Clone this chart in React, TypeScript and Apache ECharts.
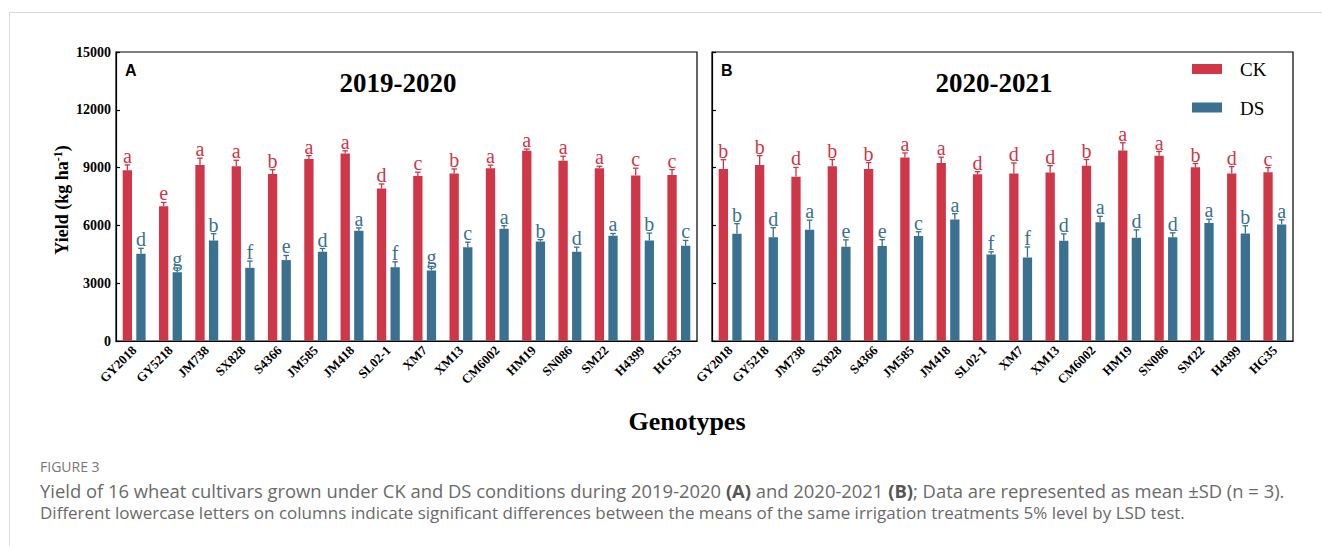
import React, { useEffect, useRef } from "react";
import * as echarts from "echarts";

// Genotypes on the x axis
const categories = [
  "GY2018", "GY5218", "JM738", "SX828", "S4366", "JM585", "JM418", "SL02-1",
  "XM7", "XM13", "CM6002", "HM19", "SN086", "SM22", "H4399", "HG35",
];

// 2019-2020 season (kg/ha), mean and SD
const ck2020 = [8860, 6990, 9140, 9070, 8670, 9450, 9730, 7910, 8570, 8690, 8970, 9870, 9350, 8970, 8590, 8620];
const ck2020Sd = [280, 200, 350, 310, 220, 170, 140, 240, 190, 240, 160, 90, 240, 100, 380, 280];
const ds2020 = [4530, 3570, 5220, 3800, 4200, 4630, 5720, 3830, 3660, 4870, 5830, 5170, 4630, 5460, 5220, 4940];
const ds2020Sd = [280, 220, 350, 350, 240, 170, 150, 280, 210, 260, 155, 90, 240, 120, 380, 280];
const ck2020Letters = ["a", "e", "a", "a", "b", "a", "a", "d", "c", "b", "a", "a", "a", "a", "c", "c"];
const ds2020Letters = ["d", "g", "b", "f", "e", "d", "a", "f", "g", "c", "a", "b", "d", "a", "b", "c"];

// 2020-2021 season (kg/ha), mean and SD
const ck2021 = [8930, 9140, 8520, 9070, 8930, 9520, 9240, 8650, 8690, 8740, 9090, 9890, 9610, 9020, 8690, 8760];
const ck2021Sd = [480, 480, 490, 350, 330, 240, 300, 140, 550, 360, 330, 400, 225, 190, 360, 240];
const ds2021 = [5570, 5390, 5780, 4890, 4930, 5450, 6300, 4490, 4340, 5200, 6160, 5360, 5390, 6120, 5580, 6050];
const ds2021Sd = [520, 490, 490, 360, 330, 220, 310, 140, 540, 360, 310, 410, 225, 200, 400, 240];
const ck2021Letters = ["b", "b", "d", "b", "b", "a", "a", "d", "d", "d", "b", "a", "a", "b", "d", "c"];
const ds2021Letters = ["b", "d", "a", "e", "e", "c", "a", "f", "f", "d", "a", "d", "d", "a", "b", "a"];

const yTicks = [0, 3000, 6000, 9000, 12000, 15000];
const seasons = ["2019-2020", "2020-2021"];
const treatments = ["CK", "DS"];

const RED = "#CF3648";
const BLUE = "#3A7190";
const SERIF = "'Liberation Serif', 'Times New Roman', serif";
const SANS = "'Liberation Sans', Arial, sans-serif";
const CAPTION_FONT = "'Open Sans', 'Noto Sans', sans-serif";

const BAR_W = 9.3;
const BAR_GAP = 4.3;
const HALF_OFFSET = (BAR_W + BAR_GAP) / 2;

function errorSeries(
  gridIdx: number,
  means: number[],
  sds: number[],
  letters: string[],
  color: string,
  side: number
) {
  return {
    type: "custom",
    xAxisIndex: gridIdx,
    yAxisIndex: gridIdx,
    silent: true,
    z: 5,
    data: means.map((m, i) => [i, m, sds[i]]),
    renderItem: (params: any, api: any) => {
      const i = api.value(0);
      const mean = api.value(1);
      const sd = api.value(2);
      const base = api.coord([i, mean]);
      const top = api.coord([i, mean + sd]);
      const x = base[0] + side * HALF_OFFSET;
      return {
        type: "group",
        children: [
          {
            type: "line",
            shape: { x1: x, y1: base[1], x2: x, y2: top[1] },
            style: { stroke: color, lineWidth: 1.3 },
          },
          {
            type: "line",
            shape: { x1: x - 2.8, y1: top[1], x2: x + 2.8, y2: top[1] },
            style: { stroke: color, lineWidth: 1.3 },
          },
          {
            type: "text",
            x: x,
            y: top[1] + 1,
            style: {
              text: letters[params.dataIndex],
              fill: color,
              font: `20px ${SERIF}`,
              align: "center",
              verticalAlign: "bottom",
            },
          },
        ],
      };
    },
  };
}

export default function App() {
  const ref = useRef<HTMLDivElement>(null);

  useEffect(() => {
    if (!ref.current) return;
    const chart = echarts.init(ref.current, undefined, { renderer: "svg" });

    const grids = [
      { left: 116, top: 52, width: 581, height: 289 },
      { left: 712, top: 52, width: 581, height: 289 },
    ].map((g) => ({
      ...g,
      show: true,
      borderColor: "#000",
      borderWidth: 1.2,
      backgroundColor: "transparent",
      containLabel: false,
    }));

    const xAxes = [0, 1].map((gi) => ({
      type: "category",
      gridIndex: gi,
      data: categories,
      axisLine: { lineStyle: { color: "#000", width: 1.2 } },
      axisTick: { alignWithLabel: true, length: 4, lineStyle: { color: "#000", width: 1.2 } },
      axisLabel: {
        rotate: 45,
        interval: 0,
        margin: 7,
        color: "#000",
        fontFamily: SERIF,
        fontWeight: "bold",
        fontSize: 13,
      },
    }));

    const yAxes = [0, 1].map((gi) => ({
      type: "value",
      gridIndex: gi,
      min: yTicks[0],
      max: yTicks[yTicks.length - 1],
      interval: yTicks[1] - yTicks[0],
      splitLine: { show: false },
      axisLine: { show: true, lineStyle: { color: "#000", width: 1.2 } },
      axisTick: { show: true, inside: true, length: 4, lineStyle: { color: "#000", width: 1.2 } },
      axisLabel: {
        show: gi === 0,
        margin: 5,
        color: "#000",
        fontFamily: SERIF,
        fontWeight: "bold",
        fontSize: 14,
        formatter: (v: number) => String(v),
      },
    }));

    const barSeries = (gi: number, name: string, data: number[], color: string) => ({
      type: "bar",
      name,
      xAxisIndex: gi,
      yAxisIndex: gi,
      data,
      barWidth: BAR_W,
      barGap: `${(BAR_GAP / BAR_W) * 100}%`,
      itemStyle: { color },
    });

    const graphic: any[] = [
      // page frame
      { type: "line", shape: { x1: 9, y1: 12.5, x2: 1322, y2: 12.5 }, style: { stroke: "#d9d9d9", lineWidth: 1 } },
      { type: "line", shape: { x1: 9.5, y1: 12, x2: 9.5, y2: 546 }, style: { stroke: "#d9d9d9", lineWidth: 1 } },
      // panel letters
      { type: "text", x: 125, y: 70, style: { text: "A", font: `bold 16px ${SANS}`, fill: "#000", verticalAlign: "middle" } },
      { type: "text", x: 721, y: 70, style: { text: "B", font: `bold 16px ${SANS}`, fill: "#000", verticalAlign: "middle" } },
      // season titles
      { type: "text", x: 398, y: 83, style: { text: seasons[0], font: `bold 27px ${SERIF}`, fill: "#000", align: "center", verticalAlign: "middle" } },
      { type: "text", x: 994, y: 83, style: { text: seasons[1], font: `bold 27px ${SERIF}`, fill: "#000", align: "center", verticalAlign: "middle" } },
      // legend
      { type: "rect", shape: { x: 1192, y: 64, width: 30, height: 10 }, style: { fill: RED } },
      { type: "text", x: 1240, y: 69.5, style: { text: treatments[0], font: `19px ${SERIF}`, fill: "#000", verticalAlign: "middle" } },
      { type: "rect", shape: { x: 1192, y: 102.5, width: 30, height: 10 }, style: { fill: BLUE } },
      { type: "text", x: 1240, y: 108, style: { text: treatments[1], font: `19px ${SERIF}`, fill: "#000", verticalAlign: "middle" } },
      // y-axis name
      {
        type: "text",
        x: 62,
        y: 200,
        rotation: Math.PI / 2,
        style: {
          text: "{m|Yield (kg ha}{s|-1}{m|)}",
          align: "center",
          verticalAlign: "middle",
          rich: {
            m: { fontFamily: SERIF, fontWeight: "bold", fontSize: 18, fill: "#000", lineHeight: 21 },
            s: { fontFamily: SERIF, fontWeight: "bold", fontSize: 12, fill: "#000", verticalAlign: "top", lineHeight: 21, padding: [0, 0, 8, 0] },
          },
        },
      },
      // x-axis name
      { type: "text", x: 687, y: 421, style: { text: "Genotypes", font: `bold 26px ${SERIF}`, fill: "#000", align: "center", verticalAlign: "middle" } },
      // caption
      { type: "text", x: 40, y: 466, style: { text: "FIGURE 3", font: `14px ${CAPTION_FONT}`, fill: "#777", verticalAlign: "middle" } },
      {
        type: "text",
        x: 40,
        y: 490,
        style: {
          text:
            "{n|Yield of 16 wheat cultivars grown under CK and DS conditions during 2019-2020 }{b|(A)}{n| and 2020-2021 }{b|(B)}{n|; Data are represented as mean ±SD (n = 3).}",
          verticalAlign: "middle",
          rich: {
            n: { fontFamily: CAPTION_FONT, fontSize: 18.4, fill: "#6a6a6a" },
            b: { fontFamily: CAPTION_FONT, fontSize: 18.4, fontWeight: "bold", fill: "#555" },
          },
        },
      },
      {
        type: "text",
        x: 40,
        y: 512,
        style: {
          text: "Different lowercase letters on columns indicate significant differences between the means of the same irrigation treatments 5% level by LSD test.",
          font: `17px ${CAPTION_FONT}`,
          fill: "#6a6a6a",
          verticalAlign: "middle",
        },
      },
    ];

    chart.setOption({
      animation: false,
      backgroundColor: "#fff",
      grid: grids,
      xAxis: xAxes,
      yAxis: yAxes,
      series: [
        barSeries(0, "CK", ck2020, RED),
        barSeries(0, "DS", ds2020, BLUE),
        barSeries(1, "CK", ck2021, RED),
        barSeries(1, "DS", ds2021, BLUE),
        errorSeries(0, ck2020, ck2020Sd, ck2020Letters, RED, -1),
        errorSeries(0, ds2020, ds2020Sd, ds2020Letters, BLUE, 1),
        errorSeries(1, ck2021, ck2021Sd, ck2021Letters, RED, -1),
        errorSeries(1, ds2021, ds2021Sd, ds2021Letters, BLUE, 1),
      ],
      graphic,
    });

    return () => chart.dispose();
  }, []);

  return (
    <div
      ref={ref}
      style={{ position: "fixed", left: 0, top: 0, width: 1322, height: 546, background: "#fff" }}
    />
  );
}
